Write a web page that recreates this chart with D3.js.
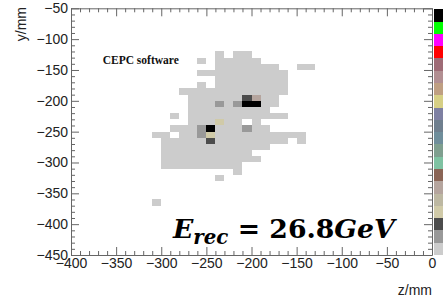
<!DOCTYPE html>
<html>
<head>
<meta charset="utf-8">
<script src="https://cdn.jsdelivr.net/npm/d3@7"></script>
<style>
  body { margin: 0; background: #fff; }
  svg { display: block; }
  .axis text { font-family: "Liberation Sans", Arial, sans-serif; font-size: 14px; fill: #222; }
  .axis line, .axis path { stroke: #666; }
</style>
</head>
<body>
<svg id="chart" width="443" height="302"></svg>
<script>
// hit map binned in 10 mm x 10 mm cells
const zMajor = [-400, -350, -300, -250, -200, -150, -100, -50, 0];
const yMajor = [-450, -400, -350, -300, -250, -200, -150, -100, -50];
const zMinor = d3.range(-400, 1, 10).filter(d => d % 50 !== 0);
const yMinor = d3.range(-450, -49, 10).filter(d => d % 50 !== 0);

// lowest-level cells as runs: [y lower edge, z from, z to]
const spans = [
  [-130, -240, -230], [-130, -220, -200],
  [-140, -260, -250], [-140, -240, -190],
  [-150, -240, -170], [-150, -150, -130],
  [-160, -260, -160],
  [-170, -240, -160],
  [-180, -260, -250], [-180, -240, -160],
  [-190, -280, -160],
  [-200, -270, -170],
  [-210, -270, -170],
  [-220, -270, -180],
  [-230, -290, -280], [-230, -270, -160],
  [-240, -270, -210], [-240, -200, -190],
  [-250, -290, -180],
  [-260, -310, -290], [-260, -280, -140],
  [-270, -300, -160], [-270, -150, -140],
  [-280, -300, -180],
  [-290, -300, -200],
  [-300, -300, -190],
  [-310, -300, -210],
  [-320, -220, -210],
  [-330, -240, -230],
  [-370, -310, -300]
];

// cells above the lowest level
const hotZ = [-210, -200, -240, -220, -210, -200, -240, -260, -250, -210, -260, -250, -250];
const hotY = [-200, -200, -210, -210, -210, -210, -240, -250, -250, -250, -260, -260, -270];
const hotLevel = [2, 5, 1, 1, 19, 19, 3, 1, 19, 1, 1, 3, 2];

// palette, level 0 (bottom of colour bar) to level 19 (top)
const palette = [
  '#cccccc', '#999999', '#4c4c4c', '#d0caa8', '#bdb8a2', '#b5a59e', '#8a6556',
  '#7fc2a2', '#7f9f8f', '#6f8e9b', '#6f7f8e', '#7e80a2', '#d6cf85', '#bf9f82',
  '#b28f92', '#9e6b76', '#ff0000', '#ff00ff', '#00ff00', '#000000'
];

const bin = 10;
const frame = { left: 71, right: 432, top: 8.3, bottom: 255 };

const svg = d3.select('#chart');

const x = d3.scaleLinear().domain([-400, 0]).range([frame.left, frame.right]);
const y = d3.scaleLinear().domain([-450, -50]).range([frame.bottom, frame.top]);
const color = i => palette[i];

const cellY = v => y(v + bin);
const cellH = v => y(v) - y(v + bin);

const $cells = svg.append('g').attr('shape-rendering', 'crispEdges');

$cells.selectAll('rect.base')
  .data(spans)
  .join('rect')
  .attr('class', 'base')
  .attr('x', d => x(d[1]))
  .attr('width', d => x(d[2]) - x(d[1]))
  .attr('y', d => cellY(d[0]))
  .attr('height', d => cellH(d[0]))
  .attr('fill', color(0));

$cells.selectAll('rect.hot')
  .data(hotZ.map((z, i) => ({ z, y: hotY[i], level: hotLevel[i] })))
  .join('rect')
  .attr('class', 'hot')
  .attr('x', d => x(d.z))
  .attr('width', d => x(d.z + bin) - x(d.z))
  .attr('y', d => cellY(d.y))
  .attr('height', d => cellH(d.y))
  .attr('fill', d => color(d.level));

// colour bar
const levels = d3.range(palette.length);
const cb = d3.scaleLinear().domain([0, palette.length]).range([frame.bottom, 9.3]);
svg.append('g').attr('shape-rendering', 'crispEdges')
  .selectAll('rect')
  .data(levels)
  .join('rect')
  .attr('x', 434)
  .attr('width', 20)
  .attr('y', d => cb(d + 1))
  .attr('height', d => cb(d) - cb(d + 1))
  .attr('fill', d => palette[d]);

// axes, ticks inward like ROOT
function drawAxis(axisFn, scale, pos, major, minor, labels) {
  const g = svg.append('g').attr('class', 'axis').attr('transform', pos);
  g.call(axisFn(scale).tickValues(minor).tickSize(-4).tickSizeOuter(0).tickFormat(''));
  g.select('.domain').remove();
  const m = axisFn(scale).tickValues(major).tickSize(-8).tickSizeOuter(0).tickPadding(3);
  if (!labels) m.tickFormat('');
  g.append('g').call(m);
  return g;
}

drawAxis(d3.axisBottom, x, `translate(0,${frame.bottom})`, zMajor, zMinor, true);
drawAxis(d3.axisTop, x, `translate(0,${frame.top})`, zMajor, zMinor, false);
drawAxis(d3.axisLeft, y, `translate(${frame.left},0)`, yMajor, yMinor, true);
drawAxis(d3.axisRight, y, `translate(${frame.right},0)`, yMajor, yMinor, false);
svg.selectAll('.axis .domain').attr('fill', 'none');

const sans = '"Liberation Sans", Arial, sans-serif';

svg.append('text')
  .attr('transform', 'translate(25.5,7) rotate(-90)')
  .attr('text-anchor', 'end')
  .attr('font-family', sans)
  .attr('font-size', 14)
  .attr('fill', '#222')
  .text('y/mm');

svg.append('text')
  .attr('x', 432)
  .attr('y', 294.5)
  .attr('text-anchor', 'end')
  .attr('font-family', sans)
  .attr('font-size', 14)
  .attr('fill', '#222')
  .text('z/mm');

svg.append('text')
  .attr('x', 102.7)
  .attr('y', 64.3)
  .attr('font-family', '"Liberation Serif", "Times New Roman", serif')
  .attr('font-weight', 'bold')
  .attr('font-size', 11.5)
  .attr('fill', '#111')
  .text('CEPC software');

// energy label, fitted to span z ~ -290 .. -40
const eLeft = 172;
const eRight = 398;
const eSize = 27;
const eText = svg.append('text')
  .attr('x', eLeft)
  .attr('y', 238)
  .attr('font-family', '"DejaVu Serif", serif')
  .attr('font-weight', 'bold')
  .attr('font-size', eSize)
  .attr('fill', '#000')
  .style('white-space', 'pre');
eText.append('tspan').attr('font-style', 'italic').text('E');
const sub = eText.append('tspan').attr('font-style', 'italic').attr('font-size', 20).attr('dy', 6).text('rec');
const after = eText.append('tspan').attr('dy', -6).text(' = 26.8');
eText.append('tspan').attr('font-style', 'italic').text('GeV');

const bb = eText.node().getBBox();
const k = (eRight - eLeft) / bb.width;
eText.attr('font-size', eSize * k);
sub.attr('font-size', 20 * k).attr('dy', 6 * k);
after.attr('dy', -6 * k);
const bb2 = eText.node().getBBox();
eText.attr('x', eLeft - (bb2.x - eLeft));
</script>
</body>
</html>
